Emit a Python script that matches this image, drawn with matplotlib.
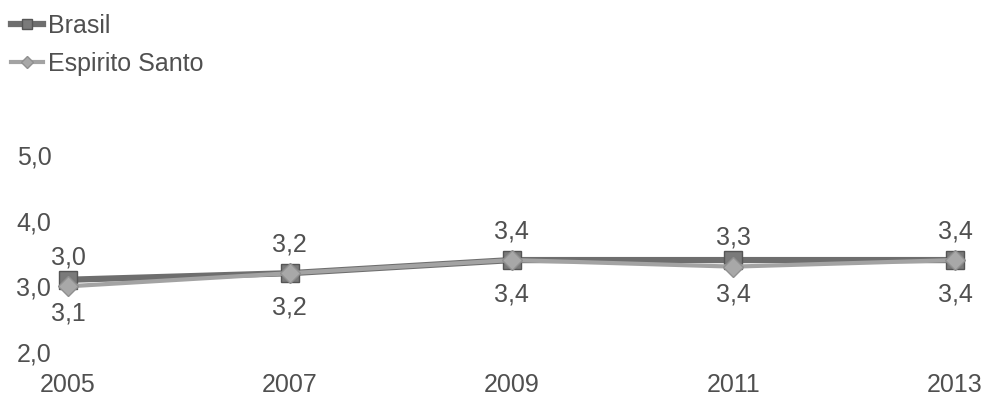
import matplotlib.pyplot as plt
from matplotlib.ticker import FuncFormatter

plt.rcParams['font.family'] = ['Liberation Sans', 'DejaVu Sans']

years = [2005, 2007, 2009, 2011, 2013]
brasil = [3.1, 3.2, 3.4, 3.4, 3.4]
espirito_santo = [3.0, 3.2, 3.4, 3.3, 3.4]
yticks = [2.0, 3.0, 4.0, 5.0]

txt = '#505050'

def br(v):
    return '{:.1f}'.format(v).replace('.', ',')

fig = plt.figure(figsize=(9.83, 3.97), dpi=100)
ax = fig.add_axes([68/983, 1-352/397, (955-68)/983, (352-155)/397])

ax.plot(years, brasil, '-s', color='#6e6e6e', linewidth=4.5, markersize=13,
        markerfacecolor='#7a7a7a', markeredgecolor='#555555', label='Brasil',
        zorder=3, clip_on=False)
ax.plot(years, espirito_santo, '-D', color='#a3a3a3', linewidth=3, markersize=10,
        markerfacecolor='#a8a8a8', markeredgecolor='#909090', label='Espirito Santo',
        zorder=4, clip_on=False)

for x_, y_ in zip(years, espirito_santo):
    ax.annotate(br(y_), (x_, y_), xytext=(0, 12), textcoords='offset points',
                ha='center', va='bottom', fontsize=18, color=txt)
for x_, y_ in zip(years, brasil):
    ax.annotate(br(y_), (x_, y_), xytext=(0, -16), textcoords='offset points',
                ha='center', va='top', fontsize=18, color=txt)

ax.set_xlim(2005, 2013)
ax.set_ylim(2.0, 5.0)
ax.set_xticks(years)
ax.set_yticks(yticks)
ax.yaxis.set_major_formatter(FuncFormatter(lambda v, p: br(v)))
ax.tick_params(length=0, labelsize=18, labelcolor=txt)
ax.tick_params(axis='x', pad=15)
ax.tick_params(axis='y', pad=12)
for s in ax.spines.values():
    s.set_visible(False)
ax.patch.set_alpha(0)

fig.legend(loc='upper left', bbox_to_anchor=(-0.012, 1.022), frameon=False,
           fontsize=18, labelcolor=txt, handlelength=1.3, handletextpad=0.2,
           labelspacing=0.55, markerscale=0.6)

fig.savefig('out.png', dpi=100)
